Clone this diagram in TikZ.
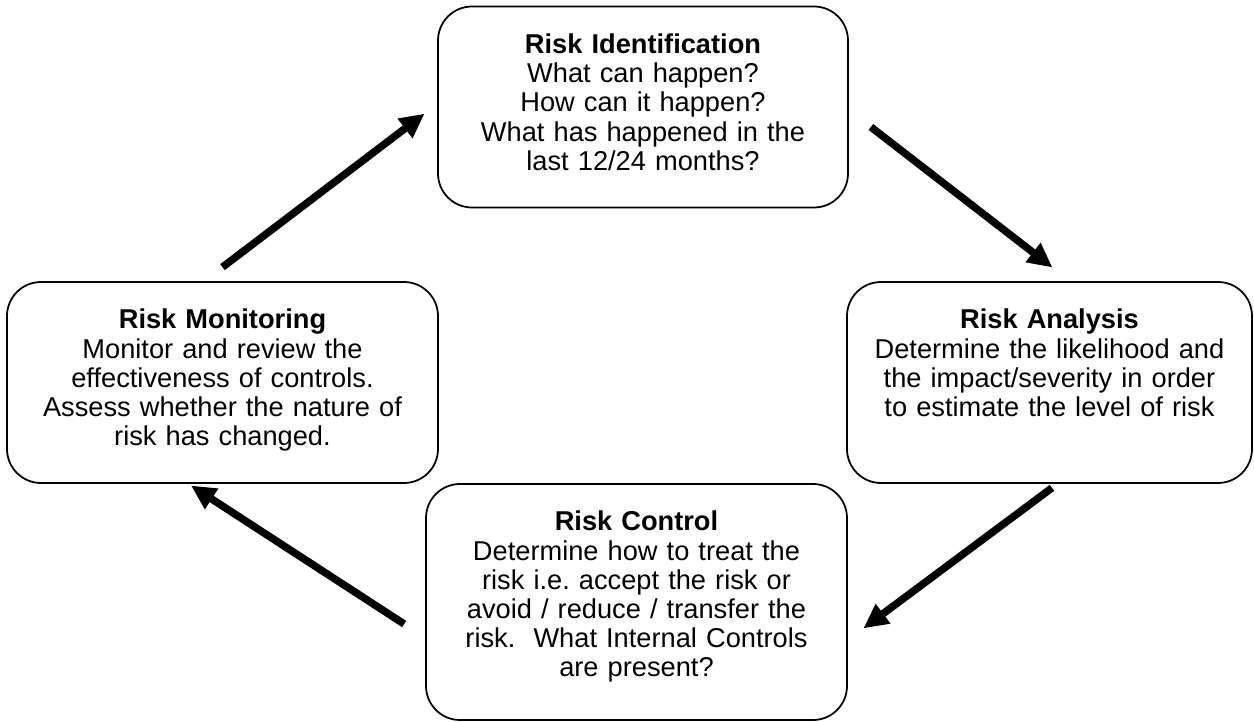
\documentclass[tikz,border=0pt]{standalone}
\usepackage{fontspec}
\setmainfont{Liberation Sans}
\usetikzlibrary{arrows.meta, positioning}
\frenchspacing

\begin{document}
\begin{tikzpicture}[
    node distance=5.51cm and 8.13cm,
    on grid,
    every node/.style={font=\fontsize{15.5}{16.6}\selectfont},
    stage/.style={rectangle, draw, line width=1pt, rounded corners=0.68cm,
                  align=center, inner xsep=0pt, inner ysep=0pt,
                  text height=0.94cm, text depth=3.08cm},
    arr/.style={-{Triangle[length=0.48cm, width=0.5cm, line width=0pt]},
                line width=0.15cm}
]
    \useasboundingbox (-12.86,2.14) rectangle (12.22,-12.30);

    \node[stage, text width=8.2cm] (ident)
        {\textbf{Risk Identification}\\What can happen?\\How can it happen?\\What has happened in the\\last 12/24 months?};
    \node[stage, text width=8.1cm, below right=5.51cm and 8.13cm of ident] (analysis)
        {\textbf{Risk Analysis}\\Determine the likelihood and\\the impact/severity in order\\to estimate the level of risk};
    \node[stage, text width=8.42cm, text depth=3.78cm, below=9.9cm of ident, xshift=-0.13cm] (control)
        {\textbf{Risk Control}\\Determine how to treat the\\risk i.e. accept the risk or\\avoid / reduce / transfer the\\risk.~ What Internal Controls\\are present?};
    \node[stage, text width=8.62cm, below left=5.51cm and 8.41cm of ident] (monitor)
        {\textbf{Risk Monitoring}\\Monitor and review the\\effectiveness of controls.\\Assess whether the nature of\\risk has changed.};

    \draw[arr] ([yshift=0.28cm]monitor.north) -- ([xshift=-0.26cm, yshift=-0.14cm]ident.west);
    \draw[arr] ([xshift=0.44cm, yshift=-0.40cm]ident.east) -- ([xshift=0.05cm, yshift=0.28cm]analysis.north);
    \draw[arr] ([xshift=0.05cm, yshift=-0.08cm]analysis.south) -- ([xshift=0.32cm, yshift=-0.52cm]control.east);
    \draw[arr] ([xshift=-0.42cm, yshift=-0.44cm]control.west) -- ([xshift=-0.62cm, yshift=-0.04cm]monitor.south);
\end{tikzpicture}
\end{document}
